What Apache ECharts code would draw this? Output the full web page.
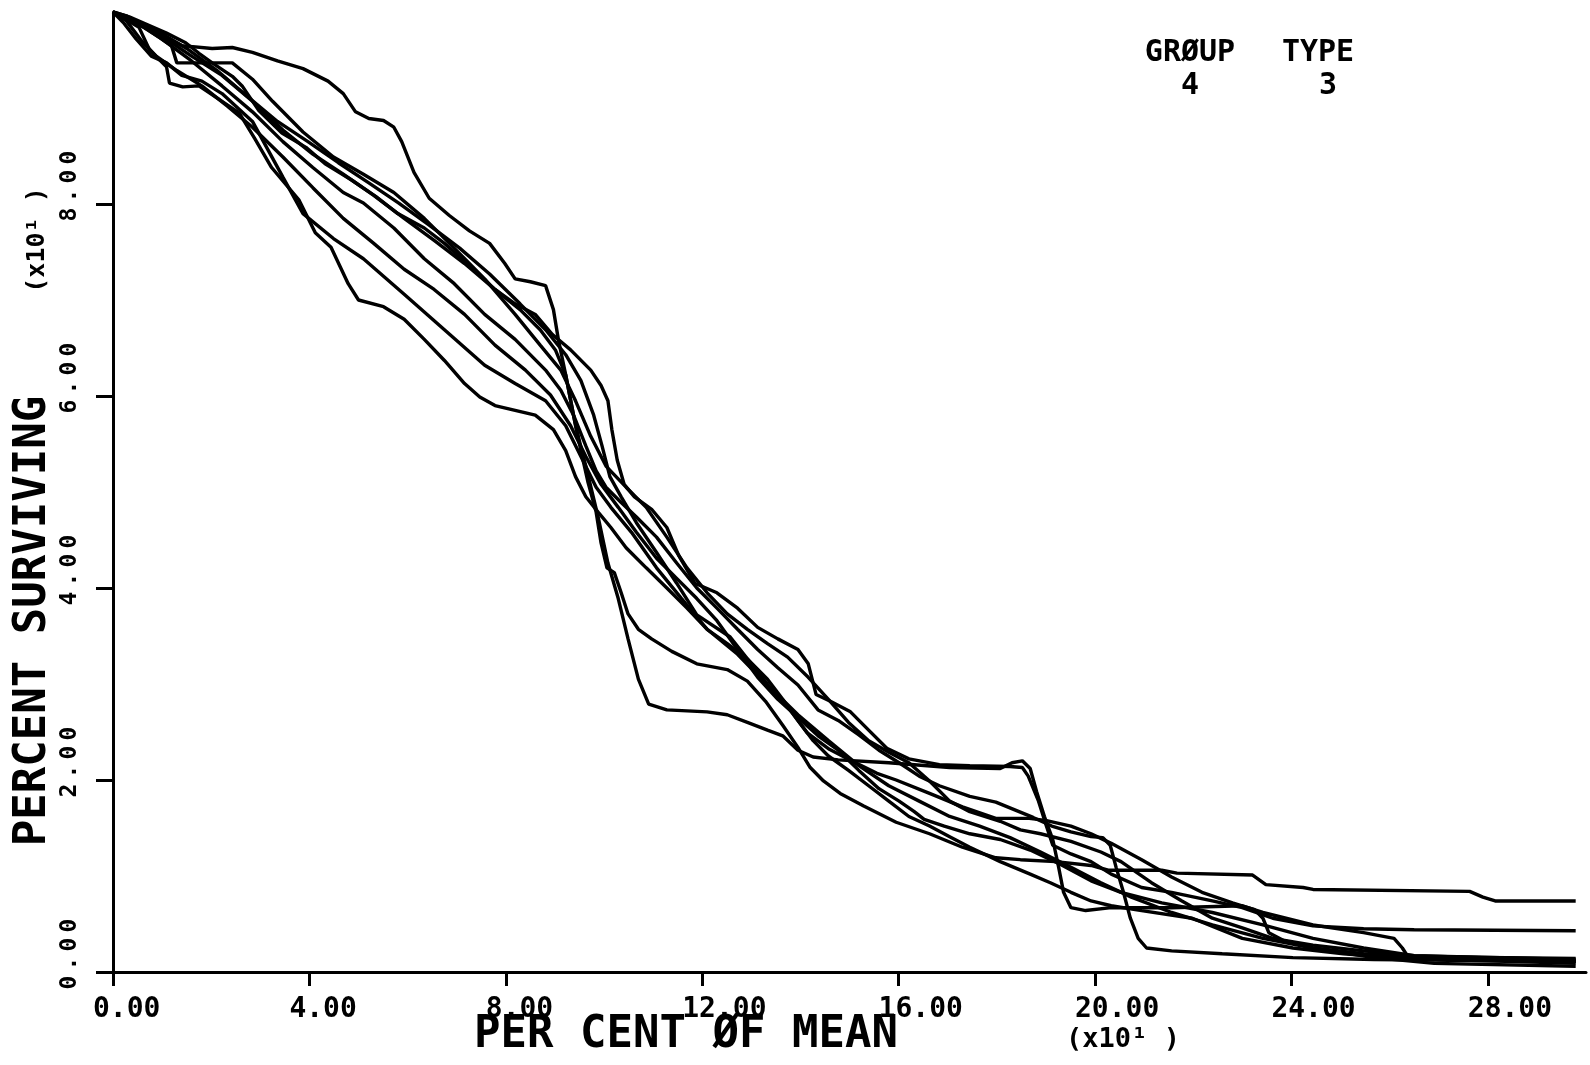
<!DOCTYPE html>
<html>
<head>
<meta charset="utf-8">
<script src="https://cdn.jsdelivr.net/npm/echarts@6/dist/echarts.min.js"></script>
<style>
html,body{margin:0;padding:0;background:#fff;}
#chart{width:1590px;height:1065px;}
</style>
</head>
<body>
<div id="chart"></div>
<script>
// x: per cent of mean, y: percent surviving
const xTickValues = [0, 40, 80, 120, 160, 200, 240, 280];
const yTickValues = [0, 20, 40, 60, 80];
const xAxisTitle = 'PER CENT ØF MEAN';
const yAxisTitle = 'PERCENT SURVIVING';
const scaleNote = '(x10¹ )';
const groupLabel = 'GRØUP', groupValue = '4';
const typeLabel = 'TYPE', typeValue = '3';

const curve1 = [[0,100],[2.7,99.6],[7.8,98.1],[14.0,96.5],[20.2,96.2],[24.3,96.3],[28.4,95.8],[33.5,94.9],[38.7,94.1],[43.8,92.8],[46.9,91.5],[49.4,89.6],[52.1,88.9],[55.1,88.7],[57.2,88.0],[58.8,86.5],[61.3,83.3],[64.4,80.6],[68.5,78.8],[72.6,77.2],[76.7,75.9],[79.8,73.8],[81.9,72.2],[85.0,71.9],[88.1,71.5],[89.7,69.0],[90.7,65.9],[92.2,62.2],[94.2,56.9],[96.3,52.7],[98.8,47.4],[100.8,42.6],[102.9,38.9],[104.9,34.7],[107.0,30.5],[109.1,27.9],[112.8,27.3],[121.0,27.1],[125.1,26.8],[129.2,26.0],[133.3,25.2],[136.4,24.6],[139.5,23.1],[142.6,22.4],[147.7,22.1],[158.0,21.8],[170.4,21.3],[180.7,21.2],[183.1,21.8],[185.2,22.0],[186.8,21.2],[188.1,18.8],[189.7,16.2],[191.4,13.8],[192.6,10.9],[193.6,8.3],[195.1,6.7],[198.1,6.4],[203.3,6.7],[215.6,6.7],[230.0,6.9],[232.5,6.5],[234.2,5.6],[235.4,4.1],[238.3,3.3],[244.4,2.5],[254.7,1.9],[265.0,1.6],[297.9,1.4]];

const curve2 = [[0,100],[3.3,99.5],[10.9,97.8],[14.8,96.8],[17.5,95.7],[20.2,94.7],[24.3,93.3],[26.3,92.3],[29.6,89.8],[34.4,87.4],[39.3,85.9],[43.2,84.2],[48.6,82.5],[53.5,80.8],[58.0,79.0],[63.4,77.5],[67.5,75.9],[72.6,73.6],[77.8,71.1],[81.9,69.6],[86.0,68.5],[89.5,66.4],[93.2,64.8],[97.3,62.7],[99.4,61.1],[100.8,59.5],[101.6,56.5],[102.7,53.3],[104.1,50.8],[106.2,49.5],[109.7,48.2],[112.8,46.3],[115.2,43.4],[118.5,40.5],[123.0,39.5],[127.2,37.9],[131.3,35.9],[135.4,34.7],[139.5,33.6],[141.6,32.1],[143.2,28.9],[146.1,28.2],[150.2,27.1],[153.9,25.2],[157.6,23.3],[162.1,22.2],[168.3,21.6],[174.5,21.5],[182.7,21.4],[185.2,21.3],[186.4,20.4],[188.5,17.8],[190.1,15.2],[191.4,13.2],[195.1,12.3],[199.2,11.5],[203.3,10.2],[209.5,8.8],[215.6,8.3],[223.9,7.4],[230.0,6.7],[236.2,5.6],[244.4,4.8],[254.7,4.5],[265.0,4.4],[297.9,4.3]];

const curve3 = [[0,100],[3.7,99.1],[9.9,97.5],[16.0,95.4],[22.2,93.4],[28.4,90.7],[34.6,87.7],[40.7,85.2],[46.9,83.1],[53.1,80.9],[59.3,78.5],[65.4,76.2],[71.6,73.8],[77.8,71.1],[82.9,69.0],[87.0,66.9],[90.1,64.8],[92.2,62.2],[93.8,58.0],[95.3,54.3],[96.7,51.1],[98.4,47.9],[99.4,44.7],[100.6,42.1],[102.1,41.6],[103.5,39.5],[104.9,37.3],[107.0,35.7],[109.7,34.7],[113.8,33.4],[118.9,32.1],[125.1,31.5],[129.2,30.3],[132.9,28.2],[136.4,25.7],[139.5,23.4],[142.0,21.3],[144.7,19.9],[148.1,18.6],[152.9,17.3],[159.5,15.6],[166.3,14.4],[173.0,13.0],[179.8,11.9],[184.8,11.7],[192.0,11.5],[199.2,11.1],[202.7,10.6],[213.6,10.6],[216.7,10.3],[232.1,10.1],[234.8,9.1],[242.4,8.8],[244.4,8.6],[276.3,8.4],[279.0,7.8],[281.5,7.4],[297.9,7.4]];

const curve4 = [[0,100],[5.3,98.4],[7.4,96.1],[10.9,94.3],[11.5,92.6],[14.2,92.2],[17.5,92.3],[21.0,91.1],[25.7,89.5],[29.0,86.7],[32.3,83.8],[37.9,80.4],[41.2,77.0],[44.4,75.5],[47.9,71.7],[50.0,70.0],[55.1,69.3],[59.3,68.0],[63.4,65.9],[67.5,63.7],[71.6,61.3],[74.7,59.9],[77.8,59.0],[81.9,58.5],[86.0,58.0],[89.7,56.5],[92.2,54.3],[94.2,51.6],[96.3,49.5],[98.8,47.9],[101.4,46.3],[104.5,44.2],[108.6,42.1],[112.8,40.0],[116.9,37.9],[121.0,35.7],[125.1,34.2],[129.2,32.6],[133.3,30.5],[136.4,28.4],[139.5,26.2],[142.6,24.1],[145.7,22.5],[149.8,21.0],[153.9,19.4],[158.0,17.8],[162.1,16.2],[166.3,15.2],[170.4,14.1],[174.5,13.0],[180.7,11.5],[186.8,10.2],[190.9,9.3],[195.1,8.3],[199.2,7.4],[203.3,6.9],[209.5,6.4],[219.8,5.6],[230.0,3.5],[240.3,2.5],[250.6,1.9],[263.0,1.4],[297.9,1.1]];

const curve5 = [[0,100],[4.7,98.9],[9.9,97.2],[16.0,94.9],[22.2,92.3],[28.4,89.6],[34.6,86.5],[40.7,83.8],[46.9,81.2],[51.0,80.1],[57.2,77.5],[63.4,74.3],[69.5,71.7],[75.7,68.5],[81.9,65.9],[88.1,62.7],[91.2,60.6],[93.8,58.0],[96.3,54.8],[98.4,52.2],[100.4,50.5],[103.5,48.9],[106.6,47.4],[110.7,45.3],[114.8,42.6],[118.9,40.0],[123.0,37.9],[127.2,35.7],[131.3,33.6],[135.4,31.7],[139.5,29.9],[143.6,27.3],[147.7,26.2],[151.9,24.7],[156.0,23.1],[160.1,21.8],[164.2,20.4],[168.3,19.4],[174.5,18.3],[179.8,17.7],[187.4,16.1],[191.2,15.2],[195.1,14.6],[199.2,14.1],[201.6,14.0],[203.1,13.2],[204.3,10.9],[205.8,8.3],[207.2,5.6],[208.8,3.5],[210.5,2.5],[215.6,2.2],[225.9,1.9],[240.3,1.5],[256.8,1.3],[297.9,1.1]];

const curve6 = [[0,100],[3.7,99.3],[8.8,98.1],[15.0,96.2],[21.2,93.9],[27.4,91.2],[33.5,88.6],[39.7,86.5],[45.9,84.3],[52.1,82.2],[58.2,80.1],[64.4,77.8],[70.6,75.4],[76.7,72.7],[82.9,69.6],[88.1,66.9],[92.2,64.3],[95.3,61.6],[97.9,58.0],[99.6,54.8],[101.2,51.6],[103.5,49.5],[106.6,46.8],[110.7,43.7],[114.8,40.5],[118.9,37.2],[125.7,34.9],[131.1,31.4],[133.7,29.7],[137.9,27.3],[141.4,24.9],[145.9,23.2],[150.0,22.1],[155.6,20.7],[159.5,20.0],[166.3,18.6],[173.0,17.2],[179.8,16.0],[186.6,16.0],[189.9,15.8],[195.1,15.2],[199.2,14.4],[203.3,13.4],[209.5,11.7],[215.6,9.9],[221.8,8.3],[228.0,7.2],[234.2,6.2],[244.4,4.9],[254.7,4.1],[260.9,3.5],[262.6,2.5],[264.0,1.4],[297.9,0.9]];

const curve7 = [[0,100],[5.8,98.6],[11.9,96.5],[13.0,94.7],[24.3,94.7],[28.4,93.0],[32.5,90.7],[38.7,87.5],[44.9,84.9],[51.0,83.1],[57.2,81.2],[63.4,78.5],[69.5,75.4],[75.7,72.2],[81.9,68.5],[87.0,65.3],[91.2,62.7],[94.2,59.5],[97.3,55.8],[100.4,52.7],[104.5,50.5],[108.6,48.4],[112.8,45.3],[116.9,42.1],[121.0,39.5],[125.1,37.3],[129.2,35.7],[133.3,34.2],[137.4,32.8],[141.6,30.7],[145.7,28.4],[149.8,26.0],[153.9,24.1],[158.0,22.9],[162.1,21.8],[166.3,19.9],[170.4,17.8],[174.5,16.7],[180.7,15.7],[184.8,14.8],[188.9,14.4],[195.1,13.6],[201.2,12.5],[205.3,11.5],[211.5,9.3],[217.7,7.4],[223.9,5.6],[230.0,4.6],[236.2,3.5],[244.4,2.8],[254.7,2.2],[265.0,1.7],[297.9,1.3]];

const curve8 = [[0,100],[2.7,99.1],[5.8,97.0],[8.8,95.4],[13.0,93.9],[18.1,92.3],[23.3,90.2],[28.4,88.0],[34.6,84.9],[40.7,81.7],[46.9,78.5],[53.1,75.9],[59.3,73.2],[65.4,71.1],[71.6,68.5],[77.8,65.3],[84.0,62.7],[89.1,60.1],[93.2,56.9],[96.3,53.7],[99.4,50.8],[102.9,48.4],[106.6,45.8],[110.7,43.1],[114.8,41.0],[118.9,38.9],[123.0,36.6],[127.2,33.6],[131.3,30.7],[135.4,28.4],[139.5,26.5],[143.6,24.6],[147.7,23.1],[151.9,21.0],[156.0,19.1],[160.1,17.8],[163.2,16.7],[165.2,15.9],[169.3,15.2],[174.5,14.4],[180.7,13.8],[186.8,12.7],[193.0,11.2],[199.2,9.5],[205.3,8.3],[213.6,7.2],[223.9,6.2],[234.2,4.9],[244.4,3.5],[254.7,2.5],[265.0,1.7],[297.9,1.2]];

const curve9 = [[0,100],[2.1,98.9],[4.7,97.2],[7.8,95.4],[10.9,94.7],[14.0,93.4],[18.1,92.8],[22.2,91.5],[28.4,88.6],[34.6,82.8],[38.7,79.0],[44.9,76.4],[51.0,74.3],[59.3,70.6],[67.5,66.9],[75.7,63.2],[81.9,61.3],[88.1,59.5],[92.2,56.9],[95.3,53.7],[98.4,50.5],[101.4,48.4],[105.6,45.8],[110.7,42.1],[115.8,38.9],[121.0,35.7],[127.2,33.1],[133.3,29.9],[139.5,26.8],[145.7,24.1],[151.9,21.5],[158.0,19.4],[164.2,17.8],[170.4,16.2],[176.5,15.2],[182.7,14.0],[188.9,12.5],[195.1,10.9],[201.2,9.3],[207.4,7.8],[215.6,6.2],[223.9,4.9],[234.2,3.5],[244.4,2.5],[256.8,1.5],[269.1,0.9],[297.9,0.6]];

const curves = [curve1, curve2, curve3, curve4, curve5, curve6, curve7, curve8, curve9];

const FONT = 'DejaVu Sans Mono';
const fmt = v => (v / 10).toFixed(2);
// y labels: each character in a fixed-width box (plotter-style pitch)
const fmtY = v => fmt(v).split('').map(ch => '{c|' + ch + '}').join('');

const chart = echarts.init(document.getElementById('chart'), null, {renderer: 'canvas'});
chart.setOption({
  animation: false,
  backgroundColor: '#fff',
  grid: {left: 113, right: 4, top: 12, bottom: 93, containLabel: false, outerBoundsMode: 'none'},
  xAxis: {
    type: 'value', min: 0, max: 300, interval: 40,
    axisLine: {show: true, onZero: false, lineStyle: {color: '#000', width: 3}},
    axisTick: {show: true, length: 14, lineStyle: {color: '#000', width: 3}, customValues: xTickValues},
    axisLabel: {
      customValues: xTickValues, formatter: fmt, color: '#000',
      fontFamily: FONT, fontWeight: 'bold', fontSize: 28, align: 'left', verticalAlign: 'top',
      padding: [0, 0, 0, -20], margin: 24, showMaxLabel: true
    },
    splitLine: {show: false}
  },
  yAxis: {
    type: 'value', min: 0, max: 100, interval: 20, offset: 4,
    axisLine: {show: true, lineStyle: {color: '#000', width: 3}},
    axisTick: {show: true, length: 17, lineStyle: {color: '#000', width: 3}, customValues: yTickValues},
    axisLabel: {
      customValues: yTickValues, formatter: fmtY, color: '#000',
      fontFamily: FONT, fontWeight: 'bold', fontSize: 23, rotate: 90, align: 'center', verticalAlign: 'bottom',
      padding: [0, 0, 0, 36], margin: 27,
      rich: {c: {width: 19, align: 'center', fontFamily: FONT, fontWeight: 'bold', fontSize: 23, color: '#000'}}
    },
    splitLine: {show: false}
  },
  series: curves.map((c, i) => ({
    type: 'line', name: 'curve' + (i + 1), data: c, symbol: 'none', smooth: false,
    lineStyle: {color: '#000', width: 3.4}, z: 2
  })),
  graphic: [
    {type: 'text', x: 34, y: 621, rotation: Math.PI / 2,
     style: {text: yAxisTitle, font: 'bold 44px "' + FONT + '"', fill: '#000', textAlign: 'center', textVerticalAlign: 'middle'}},
    {type: 'text', x: 37, y: 240, rotation: Math.PI / 2,
     style: {text: scaleNote, font: 'bold 25px "' + FONT + '"', fill: '#000', textAlign: 'center', textVerticalAlign: 'middle'}},
    {type: 'text', x: 686, y: 1036,
     style: {text: xAxisTitle, font: 'bold 44px "' + FONT + '"', fill: '#000', textAlign: 'center', textVerticalAlign: 'middle'}},
    {type: 'text', x: 1123, y: 1040,
     style: {text: scaleNote, font: 'bold 27px "' + FONT + '"', fill: '#000', textAlign: 'center', textVerticalAlign: 'middle'}},
    {type: 'text', x: 1190, y: 53,
     style: {text: groupLabel, font: 'bold 30px "' + FONT + '"', fill: '#000', textAlign: 'center', textVerticalAlign: 'middle'}},
    {type: 'text', x: 1318, y: 53,
     style: {text: typeLabel, font: 'bold 30px "' + FONT + '"', fill: '#000', textAlign: 'center', textVerticalAlign: 'middle'}},
    {type: 'text', x: 1190, y: 86,
     style: {text: groupValue, font: 'bold 30px "' + FONT + '"', fill: '#000', textAlign: 'center', textVerticalAlign: 'middle'}},
    {type: 'text', x: 1328, y: 86,
     style: {text: typeValue, font: 'bold 30px "' + FONT + '"', fill: '#000', textAlign: 'center', textVerticalAlign: 'middle'}}
  ]
});
</script>
</body>
</html>
